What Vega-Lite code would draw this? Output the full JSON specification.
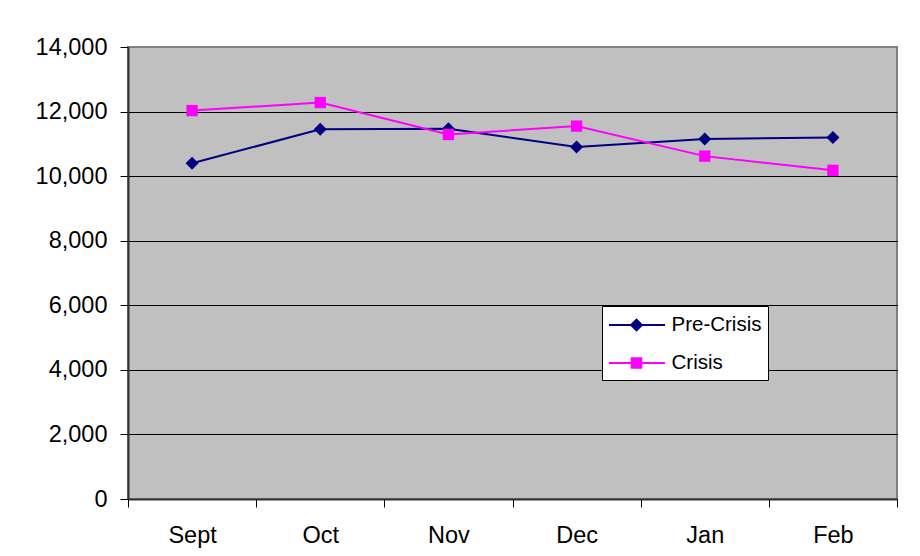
{
  "$schema": "https://vega.github.io/schema/vega-lite/v6.json",
  "autosize": "none",
  "width": 769,
  "height": 452,
  "padding": {"left": 128, "top": 47, "right": 23, "bottom": 57},
  "background": "white",
  "config": {
    "view": {"fill": "#C0C0C0", "stroke": "#808080", "strokeWidth": 2},
    "font": "Liberation Sans"
  },
  "data": {
    "values": [
      {"month": "Sept", "series": "Pre-Crisis", "value": 10400},
      {"month": "Oct", "series": "Pre-Crisis", "value": 11450},
      {"month": "Nov", "series": "Pre-Crisis", "value": 11470},
      {"month": "Dec", "series": "Pre-Crisis", "value": 10900},
      {"month": "Jan", "series": "Pre-Crisis", "value": 11150},
      {"month": "Feb", "series": "Pre-Crisis", "value": 11200},
      {"month": "Sept", "series": "Crisis", "value": 12030},
      {"month": "Oct", "series": "Crisis", "value": 12280},
      {"month": "Nov", "series": "Crisis", "value": 11290},
      {"month": "Dec", "series": "Crisis", "value": 11550},
      {"month": "Jan", "series": "Crisis", "value": 10620},
      {"month": "Feb", "series": "Crisis", "value": 10180}
    ]
  },
  "encoding": {
    "x": {
      "field": "month",
      "type": "nominal",
      "sort": ["Sept", "Oct", "Nov", "Dec", "Jan", "Feb"],
      "scale": {"type": "band", "paddingInner": 0, "paddingOuter": 0},
      "axis": {
        "title": null,
        "labelAngle": 0,
        "tickBand": "extent",
        "labelFont": "Liberation Sans",
        "labelFontSize": 23.5,
        "labelColor": "black",
        "labelPadding": 16,
        "tickSize": 8,
        "tickColor": "black",
        "tickWidth": 1,
        "domainColor": "#333333",
        "domainWidth": 2,
        "grid": false
      }
    },
    "y": {
      "field": "value",
      "type": "quantitative",
      "scale": {"domain": [0, 14000], "nice": false, "zero": true},
      "axis": {
        "title": null,
        "values": [0, 2000, 4000, 6000, 8000, 10000, 12000, 14000],
        "format": ",d",
        "labelFont": "Liberation Sans",
        "labelFontSize": 23.5,
        "labelColor": "black",
        "labelPadding": 13,
        "tickSize": 8,
        "tickColor": "black",
        "tickWidth": 1,
        "domainColor": "#333333",
        "domainWidth": 2,
        "grid": true,
        "gridColor": {"condition": {"test": "datum.value >= 14000", "value": "#808080"}, "value": "black"},
        "gridWidth": 1
      }
    },
    "color": {
      "field": "series",
      "type": "nominal",
      "scale": {"domain": ["Pre-Crisis", "Crisis"], "range": ["#000080", "#FF00FF"]},
      "legend": {
        "title": null,
        "orient": "none",
        "legendX": 474,
        "legendY": 259,
        "padding": 6,
        "rowPadding": 14,
        "labelOffset": 37.5,
        "symbolSize": 576,
        "symbolStrokeWidth": 2,
        "labelFont": "Liberation Sans",
        "labelFontSize": 20.5,
        "labelColor": "black",
        "strokeColor": "black",
        "fillColor": "white",
        "cornerRadius": 0,
        "encode": {
          "symbols": {
            "update": {
              "shape": {"signal": "datum.value == 'Pre-Crisis' ? 'M-1,0H3.667M1.292,-0.45L1.742,0L1.292,0.45L0.842,0Z' : 'M-1,0H3.667M0.892,-0.4H1.692V0.4H0.892Z'"},
              "fill": {"signal": "datum.value == 'Pre-Crisis' ? '#000080' : '#FF00FF'"},
              "stroke": {"signal": "datum.value == 'Pre-Crisis' ? '#000080' : '#FF00FF'"},
              "size": {"value": 576},
              "strokeWidth": {"value": 2},
              "opacity": {"value": 1}
            }
          }
        }
      }
    }
  },
  "layer": [
    {
      "mark": {"type": "line", "strokeWidth": 2}
    },
    {
      "transform": [{"filter": "datum.series == 'Pre-Crisis'"}],
      "mark": {"type": "point", "filled": true, "opacity": 1, "shape": "diamond", "size": 169}
    },
    {
      "transform": [{"filter": "datum.series == 'Crisis'"}],
      "mark": {"type": "point", "filled": true, "opacity": 1, "shape": "square", "size": 128}
    }
  ]
}
